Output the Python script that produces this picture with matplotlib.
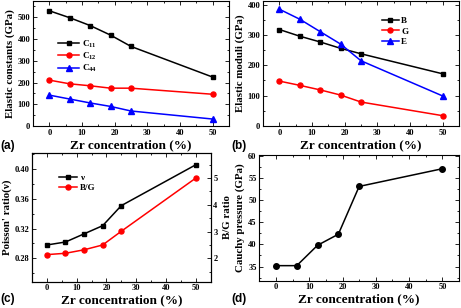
import matplotlib
matplotlib.use("Agg")
import matplotlib.pyplot as plt
from matplotlib.ticker import MultipleLocator

# data
zr = [0, 6.25, 12.5, 18.75, 25, 50]

c11 = [530, 498, 462, 418, 366, 225]
c12 = [211, 194, 185, 174, 174, 146]
c44 = [142, 124, 106, 90, 69, 32]

bulk = [318, 296, 277, 256, 238, 172]
shear = [148, 134, 119, 102, 79, 34]
young = [385, 352, 311, 270, 215, 99]

poisson = [0.298, 0.302, 0.313, 0.324, 0.351, 0.406]
bg_ratio = [2.14, 2.19, 2.32, 2.50, 3.01, 4.99]

cauchy = [35.2, 35.2, 39.8, 42.3, 53.1, 57.1]

plt.rcParams['font.family'] = 'Liberation Serif'
plt.rcParams['font.weight'] = 'bold'
plt.rcParams['mathtext.fontset'] = 'custom'
plt.rcParams['mathtext.rm'] = 'Liberation Serif:bold'
plt.rcParams['mathtext.it'] = 'Liberation Serif:bold'
plt.rcParams['mathtext.bf'] = 'Liberation Serif:bold'

W, H = 461, 308
fig = plt.figure(figsize=(W / 100, H / 100), dpi=100)

def rect(x0, x1, y0, y1):
    # pixel box -> figure fraction
    return [x0 / W, 1 - y1 / H, (x1 - x0) / W, (y1 - y0) / H]

xlabsize = 9.5
ylabsize = 7.8
ticksize = 6
lw = 1.1

def style(ax, ymaj, ymin, right=True):
    ax.set_xlim(-5, 55)
    ax.xaxis.set_major_locator(MultipleLocator(10))
    ax.xaxis.set_minor_locator(MultipleLocator(5))
    ax.yaxis.set_major_locator(MultipleLocator(ymaj))
    ax.yaxis.set_minor_locator(MultipleLocator(ymin))
    ax.tick_params(which='both', direction='in', top=True, right=right,
                   labelsize=ticksize, pad=2, width=0.6)
    ax.tick_params(which='major', length=3)
    ax.tick_params(which='minor', length=1.6)
    for s in ax.spines.values():
        s.set_linewidth(0.8)
    ax.set_xlabel('Zr concentration (%)', fontsize=xlabsize, fontweight='bold', labelpad=1.5)

# (a)
ax = fig.add_axes(rect(33, 229, 1, 126))
ax.plot(zr, c11, 'k-s', ms=3.3, lw=lw, label='C$_{11}$')
ax.plot(zr, c12, 'r-o', ms=3.6, lw=lw, label='C$_{12}$')
ax.plot(zr, c44, 'b-^', ms=3.8, lw=lw, label='C$_{44}$')
ax.set_ylim(0, 575)
style(ax, 100, 50)
ax.set_ylabel('Elastic constants (GPa)', fontsize=ylabsize, fontweight='bold', labelpad=2)
ax.legend(loc='upper left', bbox_to_anchor=(0.11, 0.73), frameon=False, fontsize=6.5,
          handlelength=2.3, handletextpad=0.3, labelspacing=0.12, borderaxespad=0)

# (b)
ax = fig.add_axes(rect(263, 459, 1, 126))
ax.plot(zr, bulk, 'k-s', ms=3.3, lw=lw, label='B')
ax.plot(zr, shear, 'r-o', ms=3.6, lw=lw, label='G')
ax.plot(zr, young, 'b-^', ms=3.8, lw=lw, label='E')
ax.set_ylim(0, 412)
style(ax, 100, 50)
ax.set_ylabel('Elastic moduli (GPa)', fontsize=ylabsize, fontweight='bold', labelpad=2)
ax.legend(loc='upper left', bbox_to_anchor=(0.59, 0.9), frameon=False, fontsize=6.5,
          handlelength=1.8, handletextpad=0.3, labelspacing=0.2, borderaxespad=0)

# (c)
ax = fig.add_axes(rect(32, 210.5, 153, 281.7))
l1, = ax.plot(zr, poisson, 'k-s', ms=3.3, lw=lw, label='\u03bd')
ax.set_ylim(0.2485, 0.422)
style(ax, 0.04, 0.02, right=False)
ax.yaxis.set_major_formatter(matplotlib.ticker.FormatStrFormatter('%.2f'))
ax.set_ylabel("Poisson' ratio(\u03bd)", fontsize=ylabsize, fontweight='bold', labelpad=2)
ax2 = ax.twinx()
l2, = ax2.plot(zr, bg_ratio, 'r-o', ms=3.6, lw=lw, label='B/G')
ax2.set_ylim(1.13, 5.93)
ax2.yaxis.set_major_locator(MultipleLocator(1))
ax2.yaxis.set_minor_locator(MultipleLocator(0.5))
ax2.tick_params(which='both', direction='in', labelsize=ticksize, pad=2, width=0.6)
ax2.tick_params(which='major', length=3)
ax2.tick_params(which='minor', length=1.6)
for s in ax2.spines.values():
    s.set_linewidth(0.8)
ax2.set_ylabel('B/G ratio', fontsize=ylabsize, fontweight='bold', labelpad=4)
ax.legend([l1, l2], ['\u03bd', 'B/G'], loc='upper left', bbox_to_anchor=(0.13, 0.87),
          frameon=False, fontsize=6.5, handlelength=2.0, handletextpad=0.3,
          labelspacing=0.25, borderaxespad=0)

# (d)
ax = fig.add_axes(rect(259.3, 459, 155, 280.7))
ax.plot(zr, cauchy, 'k-o', ms=4, lw=lw)
ax.set_ylim(31.8, 60.2)
style(ax, 5, 2.5)
ax.set_ylabel('Cauchy pressure (GPa)', fontsize=ylabsize, fontweight='bold', labelpad=2)

# panel letters
for x, y, t in [(0, 146, '(a)'), (231, 146, '(b)'), (0, 299, '(c)'), (231, 299, '(d)')]:
    fig.text(x / W, 1 - y / H, t, fontsize=8.5, fontweight='bold',
             family='Liberation Sans', va='center', ha='left')

fig.savefig('out.png', dpi=100)
